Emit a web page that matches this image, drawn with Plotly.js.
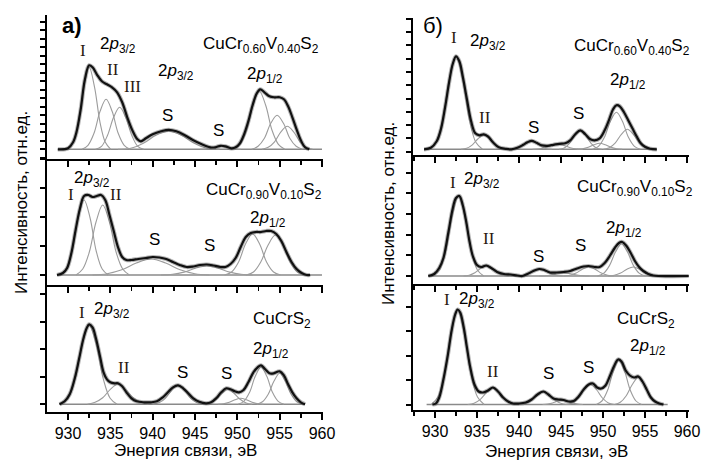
<!DOCTYPE html>
<html><head><meta charset="utf-8">
<script src="https://cdn.plot.ly/plotly-3.0.1.min.js"></script>
<style>html,body{margin:0;padding:0;background:#fff}#chart{width:706px;height:462px}</style>
</head><body><div id="chart"></div>
<script>
// ---------- data (binding energy, eV ; intensity, arb. units) ----------
const a1_env_E = [928.8,930.0,930.6,931.0,931.5,932.0,932.5,932.9,933.4,934.0,934.6,935.2,935.8,936.4,937.0,937.6,938.2,938.6,939.2,940.0,941.0,941.9,942.8,943.8,944.8,945.8,946.8,947.4,948.0,948.6,949.3,949.8,950.3,950.8,951.3,951.8,952.3,952.7,953.2,953.8,954.4,955.0,955.5,956.0,956.5,957.0,957.5,958.0,958.5];
const a1_env_I = [0,1,7,17,40,70,84,82,75,68,65,62,57,47,32,19,10,8,11,15,18,19.5,18,14,9,5,2,2,3.5,3,1,2,6,15,28,44,56,60,57,53,52,52,50,43,32,20,9,2,0];
const a1_comp_E = [
 [929.95,930.59,931.22,931.86,932.5,933.14,933.78,934.41,935.05],
 [931.65,932.36,933.07,933.79,934.5,935.21,935.93,936.64,937.35],
 [933.25,933.96,934.67,935.39,936.1,936.81,937.53,938.24,938.95],
 [935.9,937.4,938.9,940.4,941.9,943.4,944.9,946.4,947.9],
 [945.6,946.2,946.8,947.4,948,948.6,949.2,949.8,950.4],
 [949.6,950.35,951.1,951.85,952.6,953.35,954.1,954.85,955.6],
 [951.7,952.45,953.2,953.95,954.7,955.45,956.2,956.95,957.7],
 [952.9,953.65,954.4,955.15,955.9,956.65,957.4,958.15,958.9]];
const a1_comp_I = [
 [0,7,27,62,82,62,27,7,0],
 [0,4,16,38,50,38,16,4,0],
 [0,3,14,32,42,32,14,3,0],
 [0,1,6,14,18,14,6,1,0],
 [0,0.2,1,2.3,3,2.3,1,0.2,0],
 [0,5,19,44,58,44,19,5,0],
 [0,3,11,26,34,26,11,3,0],
 [0,2,7.5,17.4,23,17.4,7.5,2,0]];
const a1_base_E = [928.8, 960];

const a2_env_E = [928.7,929.4,929.9,930.4,930.9,931.4,931.9,932.4,932.9,933.4,933.9,934.4,934.9,935.4,935.9,936.4,936.9,937.5,938.3,939.2,940.0,940.8,941.6,942.4,943.2,944.0,944.8,945.6,946.4,947.2,948.0,948.6,949.2,949.8,950.4,951.0,951.6,952.2,952.8,953.4,954.0,954.6,955.2,955.8,956.4,957.0,957.6,958.2,958.6];
const a2_env_I = [0,2,7,22,45,66,79,80,78,79,80,75,60,44,28,18,15,15,16,17,18,17.5,16,13,10,8,8.5,10,10.5,9.5,8,8,11,17,28,38,42,43,43,44,44,41,34,23,13,6,2,0,0];
const a2_comp_E = [
 [929.05,929.76,930.47,931.19,931.9,932.61,933.33,934.04,934.75],
 [930.95,931.74,932.52,933.31,934.1,934.89,935.68,936.46,937.25],
 [932.9,934.62,936.35,938.07,939.8,941.53,943.25,944.98,946.7],
 [941.0,942.35,943.7,945.05,946.4,947.75,949.1,950.45,951.8],
 [948.5,949.32,950.15,950.97,951.8,952.63,953.45,954.28,955.1],
 [951.05,951.91,952.77,953.64,954.5,955.36,956.23,957.09,957.95]];
const a2_comp_I = [
 [0,6,24,57,75,57,24,6,0],
 [0,6,23,53,70,53,23,6,0],
 [0,1.3,5.2,12,16,12,5.2,1.3,0],
 [0,0.7,2.9,6.8,9,6.8,2.9,0.7,0],
 [0,3,13,31,41,31,13,3,0],
 [0,3,13,30,40,30,13,3,0]];
const a2_base_E = [928.7, 960];

const a3_env_E = [929.0,929.6,930.2,930.8,931.3,931.8,932.2,932.5,932.9,933.3,933.8,934.2,934.6,935.0,935.5,935.9,936.4,936.9,937.5,938.1,939.0,939.8,940.5,941.2,941.8,942.4,943.0,943.6,944.2,944.8,945.5,946.3,946.9,947.5,948.1,948.7,949.2,949.7,950.2,950.7,951.3,951.9,952.4,952.8,953.3,953.8,954.3,955.0,955.5,956.0,956.5,957.0,957.5,958.0];
const a3_env_I = [0,3,10,26,45,65,76,80,77,66,47,32,25,22,21,21,18,12,6,3,2,2,3,7,12,17,19,16,11,6,2.5,1,2,6,12,16,15,13,12,14,22,32,37,39,35,31,31,33,29,20,12,6,2,0];
const a3_comp_E = [
 [929.2,930.02,930.85,931.67,932.5,933.33,934.15,934.98,935.8],
 [932.3,933.2,934.1,935.0,935.9,936.8,937.7,938.6,939.5],
 [940,940.75,941.5,942.25,943,943.75,944.5,945.25,946],
 [946.05,946.76,947.47,948.19,948.9,949.61,950.33,951.04,951.75],
 [947.7,948.37,949.05,949.72,950.4,951.08,951.75,952.43,953.1],
 [950.1,950.77,951.45,952.12,952.8,953.48,954.15,954.83,955.5],
 [952.3,952.97,953.65,954.32,955,955.68,956.35,957.03,957.7]];
const a3_comp_I = [
 [0,6,26,60,79,60,26,6,0],
 [0,2,6.5,15,20,15,6.5,2,0],
 [0,1.5,6,14,19,14,6,1.5,0],
 [0,1.2,5,11,15,11,5,1.2,0],
 [0,0.5,2,4.5,6,4.5,2,0.5,0],
 [0,3,12,28,37,28,12,3,0],
 [0,2.5,10,23,31,23,10,2.5,0]];
const a3_base_E = [929.0, 958.0];

const b1_env_E = [928.7,929.5,930.2,930.7,931.2,931.7,932.1,932.5,932.9,933.3,933.8,934.3,934.8,935.3,935.8,936.3,936.9,937.6,938.4,939.1,939.8,940.5,941.0,941.5,942.1,942.7,943.4,944.1,944.8,945.5,946.1,946.7,947.3,947.9,948.5,949.0,949.6,950.2,950.7,951.2,951.6,952.0,952.5,953.0,953.5,954.0,954.5,955.0,955.6,956.4];
const b1_env_I = [0,1.5,8,20,42,68,85,93,88,73,50,28,16,14,15,13,7,2,0.5,0,1.5,4.5,7,8.5,6.5,4,3.5,4.5,5.5,6,9,15,19,15,10,9,11,19,29,40,44,43,37,29,21,13,6,2.5,0.5,0];
const b1_comp_E = [
 [929.35,930.14,930.92,931.71,932.5,933.29,934.08,934.86,935.65],
 [933.1,933.77,934.45,935.12,935.8,936.48,937.15,937.83,938.5],
 [939.1,939.7,940.3,940.9,941.5,942.1,942.7,943.3,943.9],
 [941.6,942.35,943.1,943.85,944.6,945.35,946.1,946.85,947.6],
 [944.75,945.39,946.02,946.66,947.3,947.94,948.58,949.21,949.85],
 [946.9,947.57,948.25,948.92,949.6,950.28,950.95,951.63,952.3],
 [948.75,949.46,950.17,950.89,951.6,952.31,953.03,953.74,954.45],
 [950.05,950.76,951.47,952.19,952.9,953.61,954.33,955.04,955.75]];
const b1_comp_I = [
 [0,7,30,70,93,70,30,7,0],
 [0,1,4.5,10.6,14,10.6,4.5,1,0],
 [0,0.6,2.6,6,8,6,2.6,0.6,0],
 [0,0.4,1.6,3.8,5,3.8,1.6,0.4,0],
 [0,1.4,6,13.6,18,13.6,6,1.4,0],
 [0,0.5,2,4.5,6,4.5,2,0.5,0],
 [0,3,12,28,37,28,12,3,0],
 [0,1.6,6.5,15,20,15,6.5,1.6,0]];
const b1_base_E = [928.7, 956.4];

const b2_env_E = [929.2,929.9,930.5,931.0,931.6,932.1,932.5,932.9,933.3,933.7,934.1,934.5,935.0,935.5,936.1,936.7,937.4,938.2,939.0,939.8,940.4,941.0,941.7,942.4,943.0,943.7,944.5,945.3,946.1,946.9,947.7,948.3,949.0,949.6,950.2,950.8,951.4,951.9,952.3,952.8,953.3,953.8,954.3,954.8,955.4,956.0,956.6,960.2];
const b2_env_I = [0,2,8,18,44,67,78,80,71,55,35,20,11,9,10.5,8,4,2,1.5,0.5,0,2,5,7,6,3.5,3.5,4,5,7.5,9.5,10,9,9,13,20,28,33,34,30,23,15,9,5,2,0.5,0,0];
const b2_comp_E = [
 [929.8,930.55,931.3,932.05,932.8,933.55,934.3,935.05,935.8],
 [933.4,934.07,934.75,935.42,936.1,936.78,937.45,938.13,938.8],
 [939.8,940.47,941.15,941.82,942.5,943.18,943.85,944.53,945.2],
 [942.4,943.15,943.9,944.65,945.4,946.15,946.9,947.65,948.4],
 [945.3,946.05,946.8,947.55,948.3,949.05,949.8,950.55,951.3],
 [949.35,950.06,950.77,951.49,952.2,952.91,953.63,954.34,955.05],
 [950.6,951.35,952.1,952.85,953.6,954.35,955.1,955.85,956.6]];
const b2_comp_I = [
 [0,6,26,60,80,60,26,6,0],
 [0,0.8,3.2,7.5,10,7.5,3.2,0.8,0],
 [0,0.5,2.1,4.9,6.5,4.9,2.1,0.5,0],
 [0,0.2,1,2.3,3,2.3,1,0.2,0],
 [0,0.7,2.9,6.8,9,6.8,2.9,0.7,0],
 [0,2.6,10.4,24,32,24,10.4,2.6,0],
 [0,0.7,2.9,6.8,9,6.8,2.9,0.7,0]];
const b2_base_E = [929.2, 960.2];

const b3_env_E = [929.7,930.1,930.5,931.0,931.5,932.0,932.4,932.7,933.0,933.4,933.8,934.2,934.7,935.2,935.7,936.3,936.9,937.5,938.1,938.7,939.3,940.0,940.8,941.5,942.2,942.9,943.5,944.1,944.7,945.3,945.9,946.5,947.1,947.7,948.3,948.8,949.3,949.8,950.3,950.8,951.3,951.8,952.2,952.7,953.2,953.7,954.2,954.7,955.2,955.7,956.2,956.7,957.2];
const b3_env_I = [0,1,7,25,48,75,90,95,92,78,57,37,20,13,12,14,17,13,7,3,1,1,2,5,10,13,10,6,5,4.5,3,3.5,8,15,20,21,17,16,19,28,38,45,43,34,29,27,28,23,15,7,3,1,0];
const b3_comp_E = [
 [929.55,930.34,931.12,931.91,932.7,933.49,934.28,935.06,935.85],
 [933.9,934.65,935.4,936.15,936.9,937.65,938.4,939.15,939.9],
 [940.05,940.76,941.47,942.19,942.9,943.61,944.33,945.04,945.75],
 [942.8,943.4,944,944.6,945.2,945.8,946.4,947,947.6],
 [945.65,946.36,947.07,947.79,948.5,949.21,949.93,950.64,951.35],
 [949.2,949.87,950.55,951.22,951.9,952.58,953.25,953.93,954.6],
 [951.35,952.06,952.77,953.49,954.2,954.91,955.63,956.34,957.05]];
const b3_comp_I = [
 [0,7.5,30.5,71,94,71,30.5,7.5,0],
 [0,1.3,5.2,12,16,12,5.2,1.3,0],
 [0,1,4,9.4,12.5,9.4,4,1,0],
 [0,0.4,1.5,3.4,4.5,3.4,1.5,0.4,0],
 [0,1.6,6.5,15,20,15,6.5,1.6,0],
 [0,3.5,14.3,33,44,33,14.3,3.5,0],
 [0,2.2,8.8,20,27,20,8.8,2.2,0]];
const b3_base_E = [929.0, 957.7];

const xTickVals = [930, 935, 940, 945, 950, 955, 960];
const xTitle = 'Энергия связи, эВ';
const yTitle = 'Интенсивность, отн.ед.';

// ---------- build ----------
const W = 706, H = 462;
const panels = [
  {env:[a1_env_E,a1_env_I], comp:[a1_comp_E,a1_comp_I], base:a1_base_E},
  {env:[a2_env_E,a2_env_I], comp:[a2_comp_E,a2_comp_I], base:a2_base_E},
  {env:[a3_env_E,a3_env_I], comp:[a3_comp_E,a3_comp_I], base:a3_base_E},
  {env:[b1_env_E,b1_env_I], comp:[b1_comp_E,b1_comp_I], base:b1_base_E},
  {env:[b2_env_E,b2_env_I], comp:[b2_comp_E,b2_comp_I], base:b2_base_E},
  {env:[b3_env_E,b3_env_I], comp:[b3_comp_E,b3_comp_I], base:b3_base_E}
];
// geometry (pixels)
const geo = [
  {xd:[47,323], xr:[927.52,960.12], yd:[15,159],  yr:[-9.7,134.3], dt:8.5,  t0:0,   lab:false},
  {xd:[47,323], xr:[927.52,960.12], yd:[159,285], yr:[-10,116],    dt:29,   t0:0,   lab:false},
  {xd:[47,323], xr:[927.52,960.12], yd:[285,412], yr:[-7.7,119.3], dt:27.5, t0:0,   lab:true},
  {xd:[413,689],xr:[927.38,960.24], yd:[18,155],  yr:[-5.7,131.3], dt:13.3, t0:-2.4,lab:false},
  {xd:[413,689],xr:[927.38,960.24], yd:[155,284], yr:[-8,121],     dt:20.7, t0:0,   lab:false},
  {xd:[413,689],xr:[927.38,960.24], yd:[284,410], yr:[-5.5,120.5], dt:24.5, t0:0,   lab:true}
];

const traces = [];
const layout = {
  width: W, height: H, margin:{l:0,r:0,t:0,b:0},
  paper_bgcolor:'#fff', plot_bgcolor:'rgba(0,0,0,0)',
  showlegend:false, font:{family:'Liberation Sans, Arial, sans-serif', color:'#000'},
  annotations: []
};

panels.forEach((p, i) => {
  const n = i + 1;
  const xa = 'x' + (n === 1 ? '' : n), ya = 'y' + (n === 1 ? '' : n);
  traces.push({x:p.base, y:[0,0], xaxis:xa, yaxis:ya, mode:'lines',
    line:{color:'#8a8a8a', width:1.5}, hoverinfo:'skip'});
  p.comp[0].forEach((ex, k) => {
    traces.push({x:ex, y:p.comp[1][k], xaxis:xa, yaxis:ya, mode:'lines',
      line:{color:'#9c9c9c', width:1.1, shape:'spline'}, hoverinfo:'skip'});
  });
  traces.push({x:p.env[0], y:p.env[1], xaxis:xa, yaxis:ya, mode:'lines',
    line:{color:'rgba(90,90,90,0.45)', width:4.2, shape:'spline'}, hoverinfo:'skip'});
  traces.push({x:p.env[0], y:p.env[1], xaxis:xa, yaxis:ya, mode:'lines',
    line:{color:'#111', width:2.2, shape:'spline'}, hoverinfo:'skip'});

  const g = geo[i];
  layout['xaxis' + (n === 1 ? '' : n)] = {
    domain:[g.xd[0]/W, g.xd[1]/W], range:g.xr, anchor:ya,
    showline:true, linecolor:'#000', linewidth:2, mirror:false,
    ticks:'outside', ticklen:6, tickwidth:2, tickcolor:'#000',
    tickmode:'array', tickvals:xTickVals, ticktext:xTickVals.map(String),
    minor:{tickmode:'linear', tick0:932.5, dtick:5, ticks:'outside', ticklen:4, tickwidth:1.6, tickcolor:'#000', showgrid:false},
    showticklabels:g.lab, tickfont:{size:16, color:'#000'},
    showgrid:false, zeroline:false, fixedrange:true
  };
  layout['yaxis' + (n === 1 ? '' : n)] = {
    domain:[1 - g.yd[1]/H, 1 - g.yd[0]/H], range:g.yr, anchor:xa,
    showline:true, linecolor:'#000', linewidth:2,
    ticks:'outside', ticklen:5, tickwidth:2, tickcolor:'#000',
    tickmode:'linear', tick0:g.t0, dtick:g.dt,
    showticklabels:false, showgrid:false, zeroline:false, fixedrange:true
  };
});

// ---------- text ----------
const p32 = '2<i>p</i><sub>3/2</sub>', p12 = '2<i>p</i><sub>1/2</sub>';
const c60 = 'CuCr<sub>0.60</sub>V<sub>0.40</sub>S<sub>2</sub>';
const c90 = 'CuCr<sub>0.90</sub>V<sub>0.10</sub>S<sub>2</sub>';
const c00 = 'CuCrS<sub>2</sub>';
const sans = 'Liberation Sans, Arial, sans-serif', serif = 'Liberation Serif, Times New Roman, serif';
function txt(t, x, y, size, fam, col, ang) {
  layout.annotations.push({text:t, x:x/W, y:1 - y/H, xref:'paper', yref:'paper',
    xanchor:'center', yanchor:'middle', showarrow:false, textangle:ang || 0,
    font:{size:size, family:fam, color:col || '#000'}});
}
const R = (t,x,y) => txt(t,x,y,17,serif,'#2a1a10');
const L = (t,x,y) => txt(t,x,y,17,sans);
// panel a
txt('<b>а)</b>', 72, 25, 22, sans);
R('I',83,50); L(p32,118,45); R('II',113,69); R('III',132,86);
L(p32,176,72); L('S',167,115); L('S',218,130); L(c60,261,45); L(p12,265,75);
L(p32,92,179); R('I',71,194); R('II',116,194); L(c90,264,191); L(p12,268,219);
L('S',154,240); L('S',210,245);
R('I',82,312); L(p32,112,310); R('II',124,367); L('S',182,372); L('S',226,373);
L(c00,282,320); L(p12,271,350);
// panel b
txt('б)', 433, 26, 22, sans);
R('I',454,38); L(p32,488,42); R('II',485,117); L('S',533,128); L('S',578,113);
L(c60,632,47); L(p12,628,81);
R('I',453,182); L(p32,482,180); L(c90,635,188); L(p12,624,229); R('II',489,239);
L('S',538,256); L('S',580,246);
R('I',447,299); L(p32,477,300); R('II',493,371); L('S',548,373); L('S',588,367);
L(c00,646,320); L(p12,648,347);
// axis titles
txt(yTitle, 21, 203, 17, sans, '#000', -90);
txt(yTitle, 388, 214, 17, sans, '#000', -90);
txt(xTitle, 185, 450, 17, sans);
txt(xTitle, 556, 451, 17, sans);

Plotly.newPlot('chart', traces, layout, {staticPlot:true, displayModeBar:false});
</script></body></html>
